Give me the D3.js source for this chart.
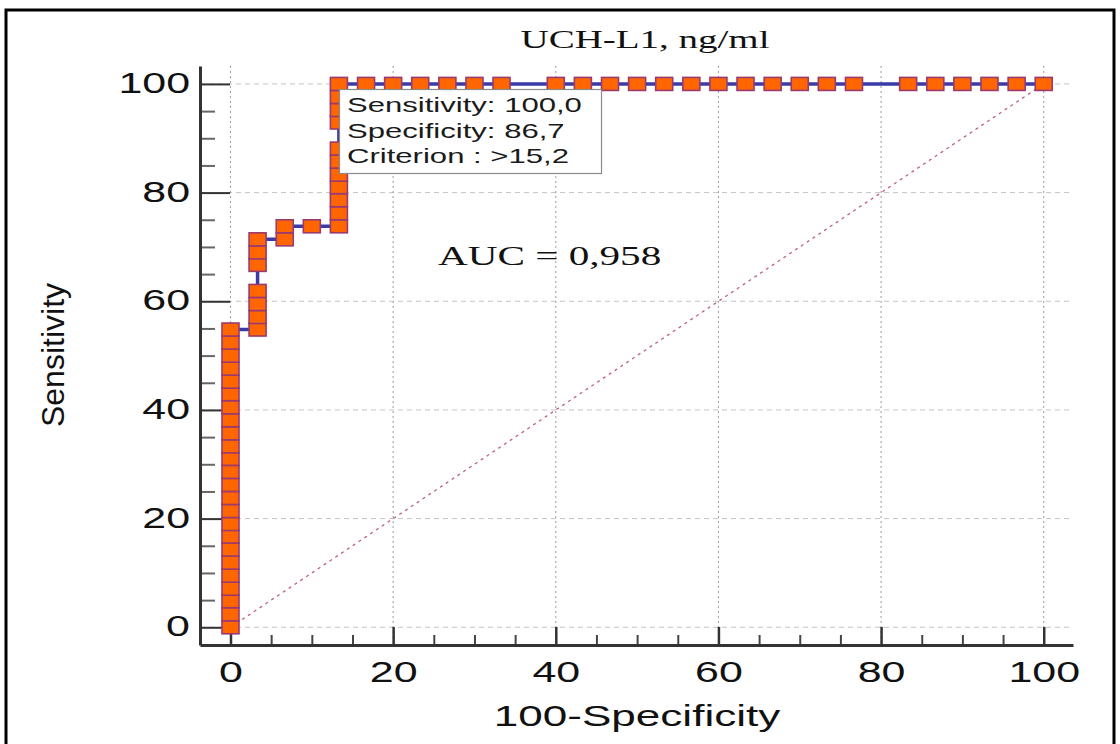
<!doctype html>
<html>
<head>
<meta charset="utf-8"/>
<title>UCH-L1, ng/ml - ROC</title>
<script src="https://cdnjs.cloudflare.com/ajax/libs/d3/7.8.5/d3.min.js"></script>
<style>
  body { margin: 0; background: #fff; }
  .sans { font-family: "Liberation Sans", Arial, sans-serif; }
  .serif { font-family: "Liberation Serif", "Times New Roman", serif; }
</style>
</head>
<body>
<svg id="chart" width="1120" height="744"></svg>
<script>
// ROC points (100-Specificity, Sensitivity)
var fprValues = [
  0,0,0,0,0,0,0,0,0,0,0,0,0,0,0,0,0,0,0,0,0,0,0,0,
  3.33,3.33,3.33,3.33,3.33,3.33,3.33,
  6.67,6.67,
  10,
  13.33,13.33,13.33,13.33,13.33,13.33,13.33,13.33,13.33,13.33,13.33,
  16.67,20,23.33,26.67,30,33.33,40,43.33,46.67,50,53.33,56.67,
  60,63.33,66.67,70,73.33,76.67,83.33,86.67,90,93.33,96.67,100
]
var sensValues = [
  0,2.4,4.8,7.1,9.5,11.9,14.3,16.7,19.0,21.4,23.8,26.2,28.6,31.0,33.3,35.7,38.1,40.5,42.9,45.2,47.6,50.0,52.4,54.8,
  54.8,57.1,59.5,61.9,66.7,69.0,71.4,
  71.4,73.8,
  73.8,
  73.8,76.2,78.6,81.0,83.3,85.7,88.1,92.9,95.2,97.6,100,
  100,100,100,100,100,100,100,100,100,100,100,100,
  100,100,100,100,100,100,100,100,100,100,100,100
]
var majorTicks = [0, 20, 40, 60, 80, 100]
var minorTicks = [5, 10, 15, 25, 30, 35, 45, 50, 55, 65, 70, 75, 85, 90, 95]
var diagonal = [[0, 0], [100, 100]]

var titleText = "UCH-L1, ng/ml"
var xTitle = "100-Specificity"
var yTitle = "Sensitivity"
var aucText = "AUC = 0,958"
var infoLines = ["Sensitivity: 100,0", "Specificity: 86,7", "Criterion : >15,2"]

var points = fprValues.map((d, i) => ({x: d, y: sensValues[i]}))

var svg = d3.select("#chart")

var x = d3.scaleLinear().domain([-3.75, 103.6]).range([200, 1073])
var y = d3.scaleLinear().domain([-3.26, 103.3]).range([645, 66])

// outer frame
svg.append("rect")
  .attr("x", 6).attr("y", 10).attr("width", 1108).attr("height", 760)
  .attr("fill", "none").attr("stroke", "#000").attr("stroke-width", 3)

// grid
svg.append("g").selectAll("line")
  .data(majorTicks).enter().append("line")
  .attr("x1", 200).attr("x2", 1073)
  .attr("y1", d => y(d)).attr("y2", d => y(d))
  .attr("stroke", "#c4c4c4").attr("stroke-dasharray", "5,4")

svg.append("g").selectAll("line")
  .data(majorTicks).enter().append("line")
  .attr("x1", d => x(d)).attr("x2", d => x(d))
  .attr("y1", 66).attr("y2", 645)
  .attr("stroke", "#9a9a9a").attr("stroke-dasharray", "2,3")

// reference diagonal
svg.append("path")
  .datum(diagonal)
  .attr("d", d3.line().x(d => x(d[0])).y(d => y(d[1])))
  .attr("fill", "none").attr("stroke", "#c0607a")
  .attr("stroke-width", 1.3).attr("stroke-dasharray", "3,4")

// axes
var yMinor = svg.append("g").attr("transform", "translate(200,0)")
  .call(d3.axisLeft(y).tickValues(minorTicks).tickSize(-15).tickSizeOuter(0).tickFormat(""))
yMinor.select(".domain").remove()
yMinor.selectAll("line").attr("stroke", "#666").attr("stroke-width", 2)

var xMinor = svg.append("g").attr("transform", "translate(0,645)")
  .call(d3.axisBottom(x).tickValues(minorTicks).tickSize(-10).tickSizeOuter(0).tickFormat(""))
xMinor.select(".domain").remove()
xMinor.selectAll("line").attr("stroke", "#444").attr("stroke-width", 2)

var yAxis = svg.append("g").attr("transform", "translate(200,0)")
  .call(d3.axisLeft(y).tickValues(majorTicks).tickSize(-30).tickSizeOuter(0))
yAxis.select(".domain").attr("stroke", "#333").attr("stroke-width", 3)
yAxis.selectAll("line").attr("stroke", "#333").attr("stroke-width", 2)
yAxis.selectAll("text")
  .attr("class", "sans").attr("x", null).attr("dy", "0.36em")
  .attr("transform", "translate(-10,-2) scale(1.48,1)")
  .attr("font-size", 29).attr("fill", "#111")

var xAxis = svg.append("g").attr("transform", "translate(0,645)")
  .call(d3.axisBottom(x).tickValues(majorTicks).tickSize(-18).tickSizeOuter(0))
xAxis.select(".domain").attr("stroke", "#333").attr("stroke-width", 3)
xAxis.selectAll("line").attr("stroke", "#333").attr("stroke-width", 2.5)
xAxis.selectAll("text")
  .attr("class", "sans").attr("y", null).attr("dy", null)
  .attr("transform", "translate(0,37) scale(1.48,1)")
  .attr("font-size", 29).attr("fill", "#111")
svg.selectAll(".tick text").attr("font-family", null)
svg.selectAll("g").attr("font-family", null)

// ROC curve
svg.append("path")
  .datum(points)
  .attr("d", d3.line().x(d => x(d.x)).y(d => y(d.y)))
  .attr("fill", "none").attr("stroke", "#3a3aa8").attr("stroke-width", 3.5)

svg.append("g").selectAll("rect")
  .data(points).enter().append("rect")
  .attr("x", d => x(d.x) - 8.5).attr("y", d => y(d.y) - 6.5)
  .attr("width", 17).attr("height", 13)
  .attr("fill", "#ff6600").attr("stroke", "#9a3a70").attr("stroke-width", 1.6)

// criterion box
svg.append("rect")
  .attr("x", 339.5).attr("y", 89.5).attr("width", 262).attr("height", 84)
  .attr("fill", "#fff").attr("stroke", "#8a8a8a").attr("stroke-width", 1.2)

svg.append("g").selectAll("text")
  .data(infoLines).enter().append("text")
  .attr("class", "sans")
  .attr("transform", (d, i) => "translate(347," + (112 + i * 25.5) + ") scale(1.48,1)")
  .attr("font-size", 21).attr("fill", "#1a1a1a")
  .text(d => d)

// texts
svg.append("text").attr("class", "serif")
  .attr("text-anchor", "middle")
  .attr("transform", "translate(645,48) scale(1.5,1)")
  .attr("font-size", 26).attr("fill", "#111")
  .text(titleText)

svg.append("text").attr("class", "serif")
  .attr("transform", "translate(438,265) scale(1.47,1)")
  .attr("font-size", 28).attr("fill", "#111")
  .text(aucText)

svg.append("text").attr("class", "sans")
  .attr("text-anchor", "middle")
  .attr("transform", "translate(637,726) scale(1.52,1)")
  .attr("font-size", 29).attr("fill", "#111")
  .text(xTitle)

svg.append("text").attr("class", "sans")
  .attr("text-anchor", "middle")
  .attr("transform", "translate(64,355) rotate(-90)")
  .attr("font-size", 32).attr("fill", "#111")
  .text(yTitle)
</script>
</body>
</html>
